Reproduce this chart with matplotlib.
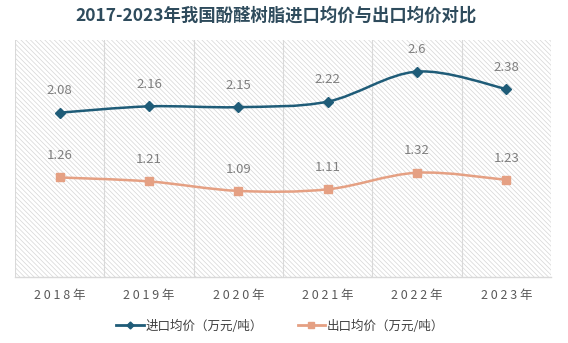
import matplotlib
matplotlib.use("Agg")
import matplotlib.pyplot as plt
import numpy as np
from matplotlib.path import Path
from matplotlib.patches import PathPatch
from matplotlib.lines import Line2D

plt.rcParams['font.family'] = ['Noto Sans CJK SC', 'DejaVu Sans']
plt.rcParams['hatch.color'] = '#D6D6D6'
plt.rcParams['hatch.linewidth'] = 0.5

years = ['2018年', '2019年', '2020年', '2021年', '2022年', '2023年']
import_price = [2.08, 2.16, 2.15, 2.22, 2.6, 2.38]
export_price = [1.26, 1.21, 1.09, 1.11, 1.32, 1.23]
series_names = ['进口均价（万元/吨）', '出口均价（万元/吨）']

c_imp = '#1F5C78'
c_exp = '#E5A083'


def smooth_path(xs, ys):
    # excel-like smoothed line: cubic bezier with catmull-rom control points
    pts = np.column_stack([xs, ys]).astype(float)
    verts = [pts[0]]
    codes = [Path.MOVETO]
    n = len(pts)
    for i in range(n - 1):
        p0 = pts[i - 1] if i > 0 else pts[i]
        p1 = pts[i]
        p2 = pts[i + 1]
        p3 = pts[i + 2] if i + 2 < n else pts[i + 1]
        c1 = p1 + (p2 - p0) / 6.0
        c2 = p2 - (p3 - p1) / 6.0
        verts += [c1, c2, p2]
        codes += [Path.CURVE4] * 3
    return Path(verts, codes)


fig = plt.figure(figsize=(5.68, 3.43), dpi=100)
ax = fig.add_axes([15 / 568, 1 - 277 / 343, 536 / 568, 237 / 343])

x = np.arange(len(years))
ax.set_xlim(-0.5, len(years) - 0.5)
ax.set_ylim(0, 3.0)

ax.patch.set_facecolor('white')
ax.patch.set_hatch('\\' * 7)
ax.patch.set_edgecolor('#D6D6D6')
ax.patch.set_linewidth(0)

for b in np.arange(-0.5, len(years), 1.0):
    ax.axvline(b, color='#D9D9D9', lw=0.8, zorder=1)

for vals, col, mk, ms, lw in [(import_price, c_imp, 'D', 5, 1.8),
                              (export_price, c_exp, 's', 6, 1.8)]:
    ax.add_patch(PathPatch(smooth_path(x, vals), facecolor='none',
                           edgecolor=col, lw=lw, zorder=3))
    ax.plot(x, vals, linestyle='none', marker=mk, ms=ms, color=col, zorder=4)

for xi, v in zip(x, import_price):
    ax.annotate(f'{v:g}', (xi, v), xytext=(0, 11), textcoords='offset points',
                ha='center', va='bottom', fontsize=9.5, color='#7F7F7F')
for xi, v in zip(x, export_price):
    ax.annotate(f'{v:g}', (xi, v), xytext=(0, 11), textcoords='offset points',
                ha='center', va='bottom', fontsize=9.5, color='#7F7F7F')

ax.set_xticks(x)
ax.set_xticklabels([' '.join(list(y[:4])) + ' ' + y[4] for y in years],
                   fontsize=9, color='#595959')
ax.tick_params(axis='x', length=0, pad=9)
ax.set_yticks([])
for s in ['top', 'left', 'right']:
    ax.spines[s].set_visible(False)
ax.spines['bottom'].set_color('#D9D9D9')
ax.spines['bottom'].set_linewidth(1)

handles = [Line2D([], [], color=c_imp, marker='D', ms=3.5, lw=2),
           Line2D([], [], color=c_exp, marker='s', ms=5, lw=2)]
fig.legend(handles, series_names, loc='center', bbox_to_anchor=(280 / 568, 1 - 326 / 343),
           ncol=2, frameon=False, fontsize=9, handlelength=2.2, handletextpad=0.1,
           columnspacing=2.8, labelcolor='#404040')

fig.text(276 / 568, 1 - 16 / 343, '2017-2023年我国酚醛树脂进口均价与出口均价对比',
         ha='center', va='center', fontsize=12.5, fontweight='bold', color='#2E4B5C')

fig.savefig('out.png', dpi=100)
